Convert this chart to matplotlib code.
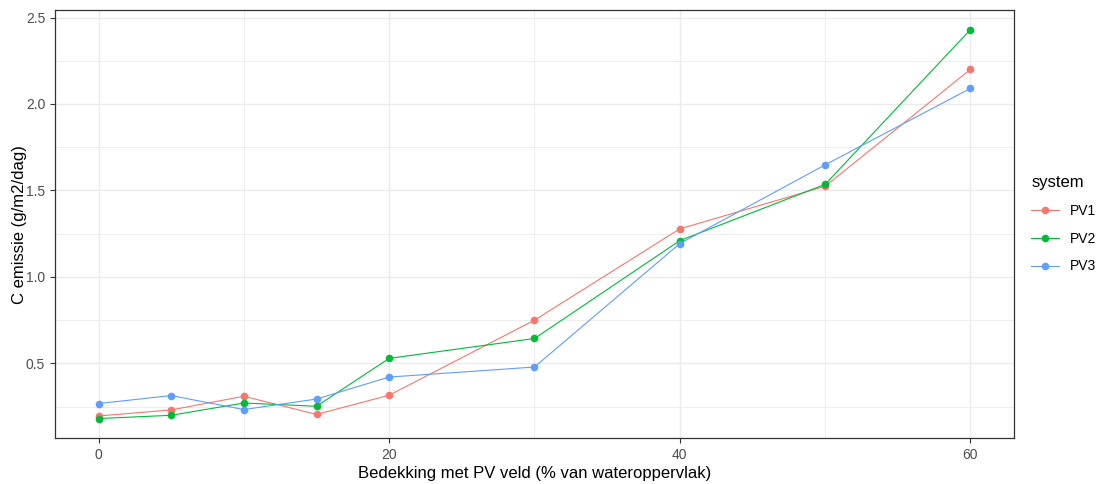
import numpy as np
import matplotlib.pyplot as plt

plt.rcParams['font.family'] = ['Liberation Sans', 'DejaVu Sans']

# bedekking (% van wateroppervlak)
bedekking = [0, 5, 10, 15, 20, 30, 40, 50, 60]

# C emissie per systeem (g/m2/dag)
pv1 = [0.196, 0.231, 0.31, 0.205, 0.316, 0.75, 1.278, 1.524, 2.20]
pv2 = [0.181, 0.20, 0.271, 0.252, 0.529, 0.644, 1.21, 1.535, 2.43]
pv3 = [0.268, 0.314, 0.233, 0.294, 0.421, 0.479, 1.193, 1.648, 2.09]

systems = ["PV1", "PV2", "PV3"]
colors = ["#F8766D", "#00BA38", "#619CFF"]

fig = plt.figure(figsize=(10.99, 4.84), dpi=100)
ax = fig.add_axes([0.05, 0.095, 0.8727, 0.884])

for name, vals, c in zip(systems, [pv1, pv2, pv3], colors):
    ax.plot(bedekking, vals, color=c, lw=0.8, marker="o", ms=5.5,
            markeredgewidth=0, label=name)

allv = np.concatenate([pv1, pv2, pv3])
rng = allv.max() - allv.min()
ax.set_ylim(allv.min() - 0.05 * rng, allv.max() + 0.05 * rng)
ax.set_xlim(-3, 63)

ax.set_xticks([0, 20, 40, 60])
ax.set_xticks([10, 30, 50], minor=True)
ax.set_yticks([0.5, 1.0, 1.5, 2.0, 2.5])
ax.set_yticks([0.25, 0.75, 1.25, 1.75, 2.25], minor=True)
ax.set_yticklabels(["0.5", "1.0", "1.5", "2.0", "2.5"])

ax.grid(which="major", color="#EBEBEB", lw=1.0)
ax.grid(which="minor", color="#EBEBEB", lw=0.6)
ax.set_axisbelow(True)

for s in ax.spines.values():
    s.set_color("#333333")
    s.set_linewidth(0.9)

ax.tick_params(which="major", colors="#333333", labelcolor="#4D4D4D",
               labelsize=10, length=3.5, width=0.8)
ax.tick_params(which="minor", length=0)

ax.set_xlabel("Bedekking met PV veld (% van wateroppervlak)", fontsize=12, labelpad=3)
ax.set_ylabel("C emissie (g/m2/dag)", fontsize=12, labelpad=-1)

leg = ax.legend(title="system", loc="center left", bbox_to_anchor=(1.005, 0.5),
                frameon=False, fontsize=10, title_fontsize=12,
                handlelength=2.0, labelspacing=1.0, alignment="left")

fig.savefig("out.png", dpi=100)
